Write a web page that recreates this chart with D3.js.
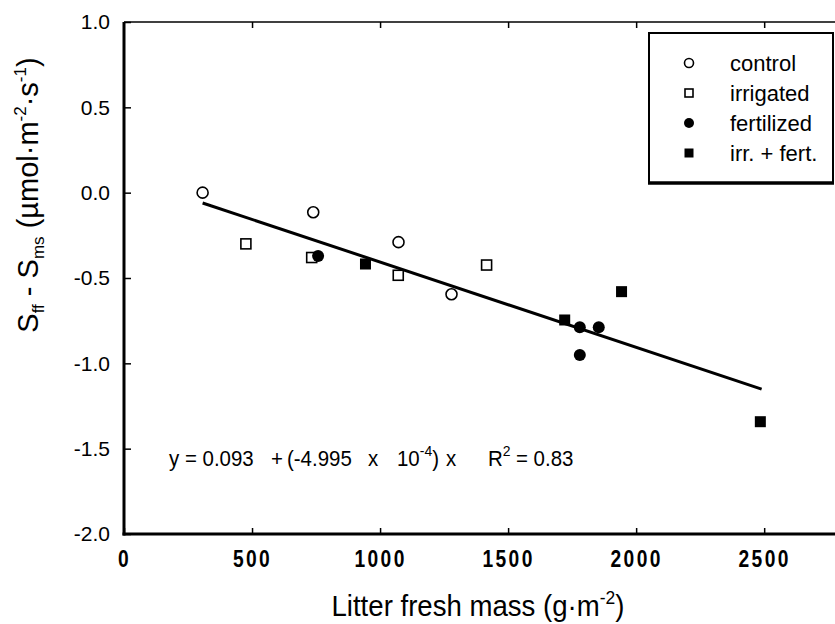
<!DOCTYPE html>
<html>
  <head>
    <title>D3 - litter mass scatter</title>
    <script src="https://d3js.org/d3.v7.min.js"></script>
    <style>
      body { margin: 0; background: #fff; }
      text { font-family: Arial, "Liberation Sans", sans-serif; fill: #000; }
    </style>
  </head>

  <body>
    <svg width="835" height="624"></svg>

    <script type="text/javascript">
      // treatment groups, in legend order
      var groups = ["control", "irrigated", "fertilized", "irr. + fert."];

      // litter fresh mass (g m-2) and Sff - Sms per group
      var controlX = [307, 739, 1072, 1279];
      var controlY = [0.0, -0.115, -0.29, -0.595];
      var irrigatedX = [476, 733, 1071, 1416];
      var irrigatedY = [-0.30, -0.38, -0.484, -0.424];
      var fertilizedX = [758, 1780, 1854, 1780];
      var fertilizedY = [-0.371, -0.789, -0.789, -0.951];
      var irrFertX = [943, 1721, 1943, 2485];
      var irrFertY = [-0.418, -0.746, -0.58, -1.342];

      // regression y = a + b x, drawn over the data range
      var intercept = 0.093;
      var slope = -4.995e-4;
      var fitRange = [307, 2490];

      var xTicks = [0, 500, 1000, 1500, 2000, 2500];
      var yTicks = [1.0, 0.5, 0.0, -0.5, -1.0, -1.5, -2.0];

      var svg = d3.select("svg");

      var x = d3.scaleLinear().domain([0, 2800]).range([124, 841]);
      var y = d3.scaleLinear().domain([-2, 1]).range([534, 22]);

      var points = [];
      function addGroup(name, xs, ys) {
        xs.forEach(function (v, i) {
          points.push({ group: name, x: v, y: ys[i] });
        });
      }
      addGroup("control", controlX, controlY);
      addGroup("irrigated", irrigatedX, irrigatedY);
      addGroup("fertilized", fertilizedX, fertilizedY);
      addGroup("irr. + fert.", irrFertX, irrFertY);

      // axes (ticks pointing inward)
      var xAxis = d3.axisBottom(x).tickValues(xTicks).tickSizeInner(-6).tickSizeOuter(0).tickPadding(16)
        .tickFormat(function (d) { return String(d); });
      var gx = svg.append("g").attr("transform", "translate(0,534)").call(xAxis);
      gx.select(".domain").remove();
      // condensed bold look of the original labels
      gx.selectAll("text")
        .attr("font-family", null)
        .attr("transform", "scale(0.8,1)")
        .style("font-size", "24px")
        .style("font-weight", "bold")
        .style("letter-spacing", "3px");
      gx.selectAll("line").attr("stroke-width", 1.5);

      var xTop = d3.axisTop(x).tickValues(xTicks.slice(1)).tickSizeInner(-6).tickSizeOuter(0).tickFormat("");
      var gt = svg.append("g").attr("transform", "translate(0,22)").call(xTop);
      gt.select(".domain").remove();
      gt.selectAll("line").attr("stroke-width", 1.5);

      var yAxis = d3.axisLeft(y).tickValues(yTicks).tickSizeInner(-7).tickSizeOuter(0).tickPadding(14)
        .tickFormat(function (d) { return d.toFixed(1); });
      var gy = svg.append("g").attr("transform", "translate(124,0)").call(yAxis);
      gy.select(".domain").remove();
      gy.selectAll("text").style("font-size", "21px").attr("font-family", null);
      gy.selectAll("line").attr("stroke-width", 1.5);

      // frame: thick left and bottom, thin top
      svg.append("line").attr("x1", x(0)).attr("x2", x(0)).attr("y1", y(1)).attr("y2", y(-2) + 1.5)
        .attr("stroke", "#000").attr("stroke-width", 3);
      svg.append("line").attr("x1", x(0) - 1.5).attr("x2", 835).attr("y1", y(-2)).attr("y2", y(-2))
        .attr("stroke", "#000").attr("stroke-width", 3);
      svg.append("line").attr("x1", x(0)).attr("x2", 835).attr("y1", y(1)).attr("y2", y(1))
        .attr("stroke", "#000").attr("stroke-width", 1.5);

      // regression line
      svg.append("line")
        .attr("x1", x(fitRange[0])).attr("y1", y(intercept + slope * fitRange[0]))
        .attr("x2", x(fitRange[1])).attr("y2", y(intercept + slope * fitRange[1]))
        .attr("stroke", "#000").attr("stroke-width", 3);

      function drawMarker(sel, group, size) {
        if (group === "control" || group === "fertilized") {
          sel.append("circle")
            .attr("r", group === "control" ? size / 2 : size / 2 + 0.5)
            .attr("fill", group === "control" ? "#fff" : "#000")
            .attr("stroke", "#000")
            .attr("stroke-width", group === "control" ? 1.6 : 0);
        } else {
          var s = group === "irrigated" ? size - 1 : size;
          sel.append("rect")
            .attr("x", -s / 2).attr("y", -s / 2)
            .attr("width", s).attr("height", s)
            .attr("fill", group === "irrigated" ? "#fff" : "#000")
            .attr("stroke", "#000")
            .attr("stroke-width", group === "irrigated" ? 1.6 : 0);
        }
      }

      var order = ["control", "irrigated", "fertilized", "irr. + fert."];
      var marks = svg.append("g").selectAll("g")
        .data(points.slice().sort(function (a, b) { return order.indexOf(a.group) - order.indexOf(b.group); }))
        .enter()
        .append("g")
        .attr("transform", function (d) { return "translate(" + x(d.x) + "," + y(d.y) + ")"; });
      marks.each(function (d) { drawMarker(d3.select(this), d.group, 11); });

      // legend
      var legend = svg.append("g");
      legend.append("rect").attr("x", 649).attr("y", 33).attr("width", 184).attr("height", 150)
        .attr("fill", "#fff").attr("stroke", "#000").attr("stroke-width", 2);
      legend.append("line").attr("x1", 648).attr("x2", 834).attr("y1", 183).attr("y2", 183)
        .attr("stroke", "#000").attr("stroke-width", 3.5);
      var rows = legend.selectAll("g.row").data(groups).enter().append("g")
        .attr("class", "row")
        .attr("transform", function (d, i) { return "translate(689," + (63 + i * 30) + ")"; });
      rows.each(function (d) { drawMarker(d3.select(this), d, 9); });
      rows.append("text").attr("x", 41).attr("dy", "0.36em").style("font-size", "22px")
        .text(function (d) { return d; });

      // equation, slightly condensed
      var k = 0.93;
      var eq = svg.append("text")
        .attr("transform", "translate(169,466) scale(" + k + ",1)")
        .style("font-size", "22px");
      var sx = function (px) { return (px - 169) / k; };
      eq.append("tspan").attr("x", sx(169)).text("y = 0.093");
      eq.append("tspan").attr("x", sx(271)).text("+");
      eq.append("tspan").attr("x", sx(287)).text("(-4.995");
      eq.append("tspan").attr("x", sx(368)).text("x");
      eq.append("tspan").attr("x", sx(397)).text("10");
      eq.append("tspan").attr("dy", -10).style("font-size", "15px").text("-4");
      eq.append("tspan").attr("dy", 10).text(")");
      eq.append("tspan").attr("x", sx(446)).text("x");
      eq.append("tspan").attr("x", sx(488)).text("R");
      eq.append("tspan").attr("dy", -10).style("font-size", "15px").text("2");
      eq.append("tspan").attr("dy", 10).attr("x", sx(516)).text("= 0.83");

      // axis titles
      var xt = svg.append("text").attr("transform", "translate(478,616) scale(0.92,1)")
        .attr("text-anchor", "middle").style("font-size", "30px");
      xt.append("tspan").text("Litter fresh mass (g\u00b7m");
      xt.append("tspan").attr("dy", -12).style("font-size", "19px").text("-2");
      xt.append("tspan").attr("dy", 12).text(")");

      var yt = svg.append("text").attr("transform", "translate(38,195) rotate(-90)")
        .attr("text-anchor", "middle").style("font-size", "29px");
      yt.append("tspan").text("S");
      yt.append("tspan").attr("dy", 6).style("font-size", "17px").text("ff");
      yt.append("tspan").attr("dy", -6).text(" - S");
      yt.append("tspan").attr("dy", 6).style("font-size", "17px").text("ms");
      yt.append("tspan").attr("dy", -6).text(" (\u00b5mol\u00b7m");
      yt.append("tspan").attr("dy", -12).style("font-size", "17px").text("-2");
      yt.append("tspan").attr("dy", 12).text("\u00b7s");
      yt.append("tspan").attr("dy", -12).style("font-size", "17px").text("-1");
      yt.append("tspan").attr("dy", 12).text(")");
    </script>
  </body>
</html>
